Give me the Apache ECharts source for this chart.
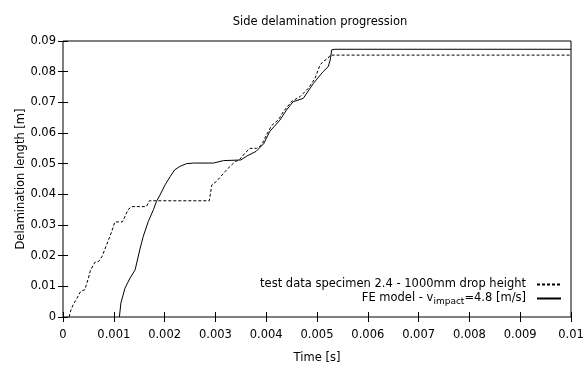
<!DOCTYPE html>
<html>
<head>
<meta charset="utf-8">
<script src="https://cdn.jsdelivr.net/npm/echarts@6/dist/echarts.min.js"></script>
<style>
  html, body { margin: 0; padding: 0; background: #fff; }
  #chart { width: 585px; height: 367px; }
</style>
</head>
<body>
<div id="chart"></div>
<script>
// test data specimen 2.4 (dashed), [time s, length m]
const testData = [
  [0.00012, 0], [0.00015, 0.002], [0.0002, 0.004], [0.00027, 0.006],
  [0.00035, 0.0084], [0.00038, 0.0089], [0.00043, 0.0089], [0.0005, 0.0127],
  [0.00054, 0.0152], [0.00063, 0.0179], [0.0007, 0.0181], [0.00077, 0.0198],
  [0.00086, 0.0236], [0.00096, 0.0279], [0.00102, 0.031], [0.00117, 0.031],
  [0.00128, 0.035], [0.00135, 0.036], [0.00164, 0.036], [0.0017, 0.0379],
  [0.00288, 0.0379], [0.00293, 0.0431], [0.00302, 0.0442], [0.00319, 0.0474],
  [0.00325, 0.0485], [0.00339, 0.0507], [0.00347, 0.0512], [0.00358, 0.0534],
  [0.00368, 0.055], [0.00381, 0.055], [0.00391, 0.0561], [0.00401, 0.0595],
  [0.00411, 0.0625], [0.00424, 0.0643], [0.00434, 0.067], [0.0045, 0.0703],
  [0.00467, 0.0719], [0.00483, 0.0746], [0.00496, 0.0778], [0.00506, 0.0822],
  [0.00512, 0.0833], [0.00522, 0.0844], [0.00526, 0.0854], [0.01, 0.0854]
];

// FE model (solid)
const feData = [
  [0.00111, 0], [0.00114, 0.0046], [0.00122, 0.0094], [0.00132, 0.0127],
  [0.00142, 0.0154], [0.00152, 0.0225], [0.00158, 0.0263], [0.00168, 0.0312],
  [0.00178, 0.035], [0.00184, 0.0377], [0.00191, 0.0398], [0.00201, 0.0431],
  [0.00211, 0.0458], [0.0022, 0.048], [0.0023, 0.0491], [0.00243, 0.05],
  [0.00257, 0.0502], [0.00296, 0.0502], [0.00316, 0.051], [0.0035, 0.0512],
  [0.00362, 0.0525], [0.0038, 0.054], [0.00395, 0.0565], [0.00407, 0.0605],
  [0.00427, 0.0642], [0.0044, 0.0675], [0.00453, 0.0702], [0.00473, 0.0713],
  [0.00493, 0.0762], [0.00512, 0.08], [0.00522, 0.0816], [0.00526, 0.0838],
  [0.00529, 0.0871], [0.00535, 0.0873], [0.01, 0.0873]
];

const seriesNames = ['test data specimen 2.4 - 1000mm drop height', 'FE model'];
const font = 'DejaVu Sans';
const fs = 11.5;

const chart = echarts.init(document.getElementById('chart'));

const tick = { show: true, inside: true, length: 5, lineStyle: { color: '#000' } };

chart.setOption({
  animation: false,
  title: {
    text: 'Side delamination progression',
    left: 315, top: 11, textAlign: 'center',
    textStyle: { fontFamily: font, fontSize: fs, fontWeight: 'normal', color: '#000' }
  },
  grid: {
    left: 63, right: 14, top: 41, bottom: 50, outerBoundsMode: 'none',
    show: true, borderColor: '#000', borderWidth: 1
  },
  legend: {
    orient: 'vertical', right: 18, bottom: 56, align: 'right',
    itemWidth: 24, itemHeight: 8, itemGap: 2,
    itemStyle: { opacity: 0 },
    data: seriesNames,
    formatter: function (name) {
      if (name === 'FE model') return '{a|FE model - v}{s|impact}{a|=4.8 [m/s]}{g|}';
      return '{a|' + name + '}{g|}';
    },
    textStyle: {
      fontFamily: font, fontSize: fs, color: '#000',
      rich: {
        a: { fontFamily: font, fontSize: fs, color: '#000' },
        s: { fontFamily: font, fontSize: 9, color: '#000', padding: [6, 0, 0, 0] },
        g: { width: 6 }
      }
    }
  },
  xAxis: [{
    type: 'value', min: 0, max: 0.01, interval: 0.001,
    name: 'Time [s]', nameLocation: 'middle', nameGap: 35,
    nameTextStyle: { fontFamily: font, fontSize: fs, color: '#000' },
    axisLine: { show: false }, axisTick: tick, splitLine: { show: false },
    axisLabel: { fontFamily: font, fontSize: fs, color: '#000', margin: 12,
      formatter: v => String(parseFloat(v.toFixed(3))) }
  }, {
    type: 'value', position: 'top', min: 0, max: 0.01, interval: 0.001,
    axisLine: { show: false }, axisTick: tick, axisLabel: { show: false }, splitLine: { show: false }
  }],
  yAxis: [{
    type: 'value', min: 0, max: 0.09, interval: 0.01,
    axisLine: { show: false }, axisTick: tick, splitLine: { show: false },
    axisLabel: { fontFamily: font, fontSize: fs, color: '#000', margin: 7,
      formatter: v => String(parseFloat(v.toFixed(2))) }
  }, {
    type: 'value', position: 'right', min: 0, max: 0.09, interval: 0.01,
    axisLine: { show: false }, axisTick: tick, axisLabel: { show: false }, splitLine: { show: false }
  }, {
    // carries only the axis title
    type: 'value', position: 'left', min: 0, max: 0.09,
    name: 'Delamination length [m]', nameLocation: 'middle', nameGap: 36,
    nameTextStyle: { fontFamily: font, fontSize: fs, color: '#000' },
    axisLine: { show: false }, axisTick: { show: false }, axisLabel: { show: false }, splitLine: { show: false }
  }],
  series: [{
    name: seriesNames[0], type: 'line', data: testData, showSymbol: false, symbol: 'none',
    lineStyle: { color: '#000', width: 1, type: [3, 2] }, itemStyle: { color: '#000' }
  }, {
    name: seriesNames[1], type: 'line', data: feData, showSymbol: false, symbol: 'none',
    lineStyle: { color: '#000', width: 1 }, itemStyle: { color: '#000' }
  }]
});
</script>
</body>
</html>
